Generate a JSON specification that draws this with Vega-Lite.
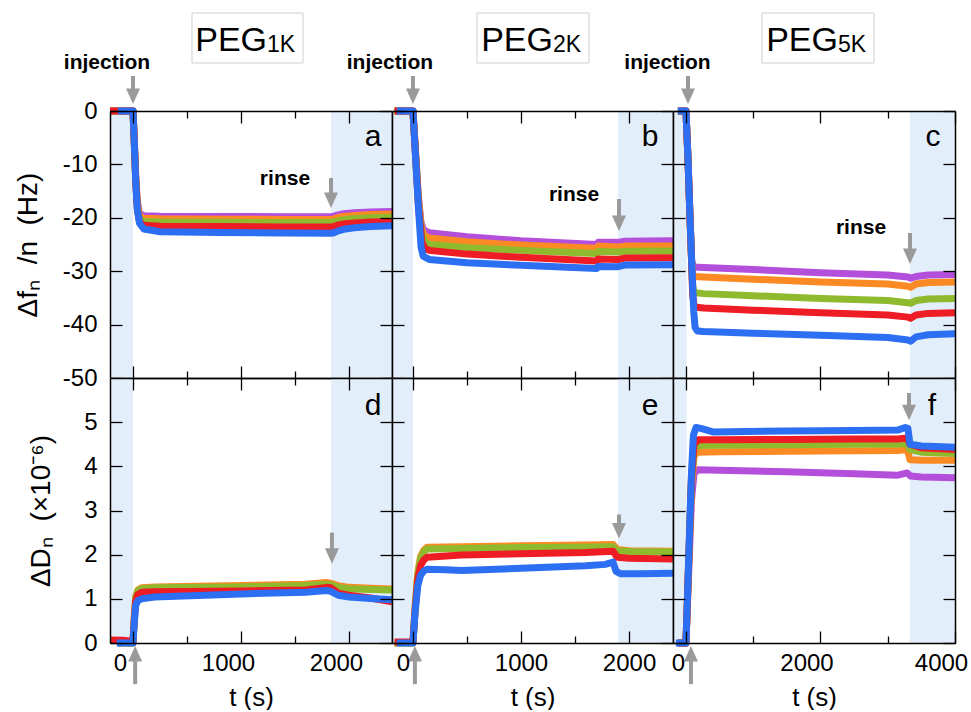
{
  "$schema": "https://vega.github.io/schema/vega-lite/v6.json",
  "background": "white",
  "padding": {"left": 14, "top": 12, "right": 0, "bottom": 0},
  "spacing": 0,
  "bounds": "flush",
  "columns": 3,
  "datasets": {
    "fa": [
      {"s":"n11","t":-213,"v":0},{"s":"n11","t":0,"v":0},{"s":"n11","t":10,"v":-4.5},{"s":"n11","t":25,"v":-12},{"s":"n11","t":40,"v":-17},{"s":"n11","t":60,"v":-19.2},{"s":"n11","t":100,"v":-19.6},{"s":"n11","t":250,"v":-19.7},{"s":"n11","t":800,"v":-19.75},{"s":"n11","t":1400,"v":-19.8},{"s":"n11","t":1833,"v":-19.8},{"s":"n11","t":1860,"v":-19.7},{"s":"n11","t":1900,"v":-19.45},{"s":"n11","t":1950,"v":-19.25},{"s":"n11","t":2050,"v":-19.05},{"s":"n11","t":2200,"v":-18.9},{"s":"n11","t":2398,"v":-18.8},
      {"s":"n9","t":-213,"v":0},{"s":"n9","t":0,"v":0},{"s":"n9","t":10,"v":-4.6},{"s":"n9","t":25,"v":-12.3},{"s":"n9","t":40,"v":-17.4},{"s":"n9","t":60,"v":-19.7},{"s":"n9","t":100,"v":-20.1},{"s":"n9","t":250,"v":-20.2},{"s":"n9","t":800,"v":-20.25},{"s":"n9","t":1400,"v":-20.3},{"s":"n9","t":1833,"v":-20.3},{"s":"n9","t":1860,"v":-20.2},{"s":"n9","t":1900,"v":-19.95},{"s":"n9","t":1950,"v":-19.75},{"s":"n9","t":2050,"v":-19.55},{"s":"n9","t":2200,"v":-19.4},{"s":"n9","t":2398,"v":-19.3},
      {"s":"n7","t":-213,"v":0},{"s":"n7","t":0,"v":0},{"s":"n7","t":10,"v":-4.7},{"s":"n7","t":25,"v":-12.6},{"s":"n7","t":40,"v":-17.8},{"s":"n7","t":60,"v":-20.2},{"s":"n7","t":100,"v":-20.7},{"s":"n7","t":250,"v":-20.8},{"s":"n7","t":800,"v":-20.85},{"s":"n7","t":1400,"v":-20.9},{"s":"n7","t":1833,"v":-20.9},{"s":"n7","t":1860,"v":-20.8},{"s":"n7","t":1900,"v":-20.55},{"s":"n7","t":1950,"v":-20.35},{"s":"n7","t":2050,"v":-20.15},{"s":"n7","t":2200,"v":-20.0},{"s":"n7","t":2398,"v":-19.9},
      {"s":"n5","t":-213,"v":0},{"s":"n5","t":0,"v":0},{"s":"n5","t":10,"v":-4.9},{"s":"n5","t":25,"v":-13},{"s":"n5","t":40,"v":-18.3},{"s":"n5","t":60,"v":-20.8},{"s":"n5","t":100,"v":-21.4},{"s":"n5","t":250,"v":-21.6},{"s":"n5","t":800,"v":-21.65},{"s":"n5","t":1400,"v":-21.7},{"s":"n5","t":1833,"v":-21.7},{"s":"n5","t":1860,"v":-21.6},{"s":"n5","t":1900,"v":-21.35},{"s":"n5","t":1950,"v":-21.15},{"s":"n5","t":2050,"v":-20.95},{"s":"n5","t":2200,"v":-20.8},{"s":"n5","t":2398,"v":-20.7},
      {"s":"n3","t":-140,"v":0},{"s":"n3","t":0,"v":0},{"s":"n3","t":10,"v":-5},{"s":"n3","t":25,"v":-13.2},{"s":"n3","t":40,"v":-18.5},{"s":"n3","t":60,"v":-21},{"s":"n3","t":100,"v":-22.1},{"s":"n3","t":250,"v":-22.6},{"s":"n3","t":800,"v":-22.75},{"s":"n3","t":1400,"v":-22.85},{"s":"n3","t":1833,"v":-22.9},{"s":"n3","t":1860,"v":-22.8},{"s":"n3","t":1900,"v":-22.45},{"s":"n3","t":1950,"v":-22.15},{"s":"n3","t":2050,"v":-21.85},{"s":"n3","t":2200,"v":-21.65},{"s":"n3","t":2398,"v":-21.5}
    ],
    "fb": [
      {"s":"n11","t":-170,"v":0},{"s":"n11","t":0,"v":0},{"s":"n11","t":25,"v":-8},{"s":"n11","t":50,"v":-16},{"s":"n11","t":75,"v":-21},{"s":"n11","t":100,"v":-22.3},{"s":"n11","t":150,"v":-22.8},{"s":"n11","t":500,"v":-23.55},{"s":"n11","t":1000,"v":-24.3},{"s":"n11","t":1700,"v":-25.0},{"s":"n11","t":1715,"v":-24.6},{"s":"n11","t":1898,"v":-24.6},{"s":"n11","t":1960,"v":-24.4},{"s":"n11","t":2407,"v":-24.3},
      {"s":"n9","t":-170,"v":0},{"s":"n9","t":0,"v":0},{"s":"n9","t":25,"v":-8.2},{"s":"n9","t":50,"v":-16.5},{"s":"n9","t":78,"v":-22},{"s":"n9","t":105,"v":-23.3},{"s":"n9","t":150,"v":-23.8},{"s":"n9","t":500,"v":-24.5},{"s":"n9","t":1000,"v":-25.1},{"s":"n9","t":1700,"v":-25.7},{"s":"n9","t":1715,"v":-25.3},{"s":"n9","t":1898,"v":-25.45},{"s":"n9","t":1960,"v":-25.3},{"s":"n9","t":2407,"v":-25.3},
      {"s":"n7","t":-170,"v":0},{"s":"n7","t":0,"v":0},{"s":"n7","t":25,"v":-8.4},{"s":"n7","t":50,"v":-17},{"s":"n7","t":80,"v":-23},{"s":"n7","t":110,"v":-24.5},{"s":"n7","t":150,"v":-25.0},{"s":"n7","t":500,"v":-25.6},{"s":"n7","t":1000,"v":-26.1},{"s":"n7","t":1700,"v":-26.7},{"s":"n7","t":1715,"v":-26.3},{"s":"n7","t":1898,"v":-26.4},{"s":"n7","t":1960,"v":-26.25},{"s":"n7","t":2407,"v":-26.2},
      {"s":"n5","t":-170,"v":0},{"s":"n5","t":0,"v":0},{"s":"n5","t":25,"v":-8.7},{"s":"n5","t":50,"v":-17.5},{"s":"n5","t":82,"v":-24.5},{"s":"n5","t":110,"v":-25.7},{"s":"n5","t":150,"v":-26.1},{"s":"n5","t":500,"v":-26.8},{"s":"n5","t":1000,"v":-27.4},{"s":"n5","t":1700,"v":-28.1},{"s":"n5","t":1715,"v":-27.7},{"s":"n5","t":1898,"v":-27.8},{"s":"n5","t":1960,"v":-27.55},{"s":"n5","t":2407,"v":-27.5},
      {"s":"n3","t":-150,"v":0},{"s":"n3","t":0,"v":0},{"s":"n3","t":25,"v":-9},{"s":"n3","t":50,"v":-18},{"s":"n3","t":75,"v":-25.5},{"s":"n3","t":95,"v":-27.2},{"s":"n3","t":150,"v":-27.8},{"s":"n3","t":500,"v":-28.4},{"s":"n3","t":1000,"v":-28.9},{"s":"n3","t":1700,"v":-29.5},{"s":"n3","t":1715,"v":-29.1},{"s":"n3","t":1898,"v":-29.15},{"s":"n3","t":1960,"v":-28.85},{"s":"n3","t":2407,"v":-28.8}
    ],
    "fc": [
      {"s":"n11","t":-120,"v":0},{"s":"n11","t":0,"v":0},{"s":"n11","t":30,"v":-9},{"s":"n11","t":60,"v":-20},{"s":"n11","t":85,"v":-28},{"s":"n11","t":110,"v":-29.2},{"s":"n11","t":260,"v":-29.3},{"s":"n11","t":1000,"v":-29.7},{"s":"n11","t":2000,"v":-30.3},{"s":"n11","t":3000,"v":-30.7},{"s":"n11","t":3300,"v":-31.1},{"s":"n11","t":3340,"v":-31.3},{"s":"n11","t":3420,"v":-31.0},{"s":"n11","t":3600,"v":-30.7},{"s":"n11","t":4000,"v":-30.6},
      {"s":"n9","t":-120,"v":0},{"s":"n9","t":0,"v":0},{"s":"n9","t":30,"v":-9},{"s":"n9","t":60,"v":-20},{"s":"n9","t":88,"v":-29.5},{"s":"n9","t":112,"v":-31},{"s":"n9","t":260,"v":-31.1},{"s":"n9","t":1000,"v":-31.5},{"s":"n9","t":2000,"v":-32.0},{"s":"n9","t":3000,"v":-32.4},{"s":"n9","t":3300,"v":-32.8},{"s":"n9","t":3340,"v":-33.0},{"s":"n9","t":3420,"v":-32.4},{"s":"n9","t":3600,"v":-32.1},{"s":"n9","t":4000,"v":-32.0},
      {"s":"n7","t":-120,"v":0},{"s":"n7","t":0,"v":0},{"s":"n7","t":30,"v":-9},{"s":"n7","t":60,"v":-20},{"s":"n7","t":95,"v":-32},{"s":"n7","t":118,"v":-34},{"s":"n7","t":260,"v":-34.2},{"s":"n7","t":1000,"v":-34.6},{"s":"n7","t":2000,"v":-35.1},{"s":"n7","t":3000,"v":-35.5},{"s":"n7","t":3300,"v":-35.9},{"s":"n7","t":3340,"v":-36.0},{"s":"n7","t":3420,"v":-35.5},{"s":"n7","t":3600,"v":-35.2},{"s":"n7","t":4000,"v":-35.1},
      {"s":"n5","t":-120,"v":0},{"s":"n5","t":0,"v":0},{"s":"n5","t":30,"v":-9},{"s":"n5","t":60,"v":-20},{"s":"n5","t":100,"v":-34.5},{"s":"n5","t":125,"v":-36.7},{"s":"n5","t":260,"v":-36.9},{"s":"n5","t":1000,"v":-37.3},{"s":"n5","t":2000,"v":-37.8},{"s":"n5","t":3000,"v":-38.2},{"s":"n5","t":3300,"v":-38.6},{"s":"n5","t":3340,"v":-38.8},{"s":"n5","t":3420,"v":-38.2},{"s":"n5","t":3600,"v":-37.9},{"s":"n5","t":4000,"v":-37.8},
      {"s":"n3","t":-120,"v":0},{"s":"n3","t":0,"v":0},{"s":"n3","t":30,"v":-9},{"s":"n3","t":60,"v":-20},{"s":"n3","t":90,"v":-30},{"s":"n3","t":115,"v":-37.5},{"s":"n3","t":135,"v":-40.5},{"s":"n3","t":170,"v":-41.2},{"s":"n3","t":260,"v":-41.3},{"s":"n3","t":1000,"v":-41.6},{"s":"n3","t":2000,"v":-42.0},{"s":"n3","t":3000,"v":-42.4},{"s":"n3","t":3300,"v":-42.9},{"s":"n3","t":3340,"v":-43.1},{"s":"n3","t":3420,"v":-42.3},{"s":"n3","t":3600,"v":-41.9},{"s":"n3","t":4000,"v":-41.7}
    ],
    "da": [
      {"s":"n9","t":-140,"v":0},{"s":"n9","t":0,"v":0},{"s":"n9","t":10,"v":0.5},{"s":"n9","t":25,"v":1.05},{"s":"n9","t":45,"v":1.2},{"s":"n9","t":80,"v":1.25},{"s":"n9","t":200,"v":1.27},{"s":"n9","t":1000,"v":1.3},{"s":"n9","t":1600,"v":1.33},{"s":"n9","t":1790,"v":1.37},{"s":"n9","t":1833,"v":1.35},{"s":"n9","t":1900,"v":1.3},{"s":"n9","t":2000,"v":1.26},{"s":"n9","t":2200,"v":1.24},{"s":"n9","t":2398,"v":1.22},
      {"s":"n7","t":-140,"v":0},{"s":"n7","t":0,"v":0},{"s":"n7","t":10,"v":0.5},{"s":"n7","t":25,"v":1.03},{"s":"n7","t":45,"v":1.18},{"s":"n7","t":80,"v":1.23},{"s":"n7","t":200,"v":1.25},{"s":"n7","t":1000,"v":1.27},{"s":"n7","t":1600,"v":1.3},{"s":"n7","t":1790,"v":1.33},{"s":"n7","t":1833,"v":1.32},{"s":"n7","t":1900,"v":1.26},{"s":"n7","t":2000,"v":1.23},{"s":"n7","t":2200,"v":1.21},{"s":"n7","t":2398,"v":1.2},
      {"s":"n5","t":-213,"v":0.07},{"s":"n5","t":-100,"v":0.06},{"s":"n5","t":0,"v":0.04},{"s":"n5","t":10,"v":0.45},{"s":"n5","t":25,"v":0.95},{"s":"n5","t":45,"v":1.1},{"s":"n5","t":80,"v":1.15},{"s":"n5","t":200,"v":1.16},{"s":"n5","t":1000,"v":1.18},{"s":"n5","t":1600,"v":1.2},{"s":"n5","t":1790,"v":1.26},{"s":"n5","t":1833,"v":1.25},{"s":"n5","t":1900,"v":1.13},{"s":"n5","t":2000,"v":1.08},{"s":"n5","t":2200,"v":1.02},{"s":"n5","t":2398,"v":0.93},
      {"s":"n3","t":-150,"v":0},{"s":"n3","t":0,"v":0},{"s":"n3","t":10,"v":0.4},{"s":"n3","t":25,"v":0.85},{"s":"n3","t":45,"v":0.96},{"s":"n3","t":80,"v":1.0},{"s":"n3","t":200,"v":1.04},{"s":"n3","t":1000,"v":1.11},{"s":"n3","t":1600,"v":1.15},{"s":"n3","t":1790,"v":1.19},{"s":"n3","t":1833,"v":1.17},{"s":"n3","t":1900,"v":1.08},{"s":"n3","t":2000,"v":1.04},{"s":"n3","t":2200,"v":1.01},{"s":"n3","t":2398,"v":0.98}
    ],
    "db": [
      {"s":"n9","t":-170,"v":0},{"s":"n9","t":0,"v":0},{"s":"n9","t":20,"v":0.8},{"s":"n9","t":45,"v":1.6},{"s":"n9","t":70,"v":1.95},{"s":"n9","t":100,"v":2.1},{"s":"n9","t":130,"v":2.17},{"s":"n9","t":450,"v":2.18},{"s":"n9","t":1000,"v":2.2},{"s":"n9","t":1600,"v":2.22},{"s":"n9","t":1852,"v":2.23},{"s":"n9","t":1890,"v":2.12},{"s":"n9","t":2000,"v":2.09},{"s":"n9","t":2407,"v":2.08},
      {"s":"n7","t":-170,"v":0},{"s":"n7","t":0,"v":0},{"s":"n7","t":20,"v":0.78},{"s":"n7","t":45,"v":1.56},{"s":"n7","t":70,"v":1.9},{"s":"n7","t":100,"v":2.06},{"s":"n7","t":130,"v":2.13},{"s":"n7","t":450,"v":2.14},{"s":"n7","t":1000,"v":2.16},{"s":"n7","t":1600,"v":2.17},{"s":"n7","t":1852,"v":2.18},{"s":"n7","t":1890,"v":2.09},{"s":"n7","t":2000,"v":2.07},{"s":"n7","t":2407,"v":2.06},
      {"s":"n5","t":-170,"v":0.02},{"s":"n5","t":0,"v":0.02},{"s":"n5","t":20,"v":0.75},{"s":"n5","t":45,"v":1.45},{"s":"n5","t":70,"v":1.75},{"s":"n5","t":100,"v":1.88},{"s":"n5","t":130,"v":1.94},{"s":"n5","t":450,"v":1.99},{"s":"n5","t":1000,"v":2.02},{"s":"n5","t":1600,"v":2.05},{"s":"n5","t":1852,"v":2.08},{"s":"n5","t":1890,"v":1.94},{"s":"n5","t":2000,"v":1.92},{"s":"n5","t":2407,"v":1.9},
      {"s":"n3","t":-150,"v":0},{"s":"n3","t":0,"v":0},{"s":"n3","t":20,"v":0.7},{"s":"n3","t":45,"v":1.3},{"s":"n3","t":70,"v":1.53},{"s":"n3","t":100,"v":1.63},{"s":"n3","t":130,"v":1.67},{"s":"n3","t":300,"v":1.66},{"s":"n3","t":450,"v":1.64},{"s":"n3","t":1000,"v":1.69},{"s":"n3","t":1600,"v":1.75},{"s":"n3","t":1780,"v":1.78},{"s":"n3","t":1852,"v":1.83},{"s":"n3","t":1880,"v":1.62},{"s":"n3","t":1920,"v":1.57},{"s":"n3","t":2100,"v":1.57},{"s":"n3","t":2407,"v":1.58}
    ],
    "dc": [
      {"s":"n11","t":-120,"v":0},{"s":"n11","t":0,"v":0},{"s":"n11","t":40,"v":1.6},{"s":"n11","t":80,"v":3.2},{"s":"n11","t":120,"v":3.85},{"s":"n11","t":180,"v":3.92},{"s":"n11","t":500,"v":3.91},{"s":"n11","t":1500,"v":3.88},{"s":"n11","t":2500,"v":3.83},{"s":"n11","t":3150,"v":3.8},{"s":"n11","t":3290,"v":3.85},{"s":"n11","t":3340,"v":3.78},{"s":"n11","t":3500,"v":3.76},{"s":"n11","t":4000,"v":3.74},
      {"s":"n9","t":-120,"v":0},{"s":"n9","t":0,"v":0},{"s":"n9","t":40,"v":1.75},{"s":"n9","t":80,"v":3.5},{"s":"n9","t":120,"v":4.25},{"s":"n9","t":180,"v":4.32},{"s":"n9","t":500,"v":4.33},{"s":"n9","t":1500,"v":4.34},{"s":"n9","t":2500,"v":4.35},{"s":"n9","t":3150,"v":4.36},{"s":"n9","t":3290,"v":4.38},{"s":"n9","t":3330,"v":4.15},{"s":"n9","t":3500,"v":4.14},{"s":"n9","t":4000,"v":4.14},
      {"s":"n7","t":-120,"v":0},{"s":"n7","t":0,"v":0},{"s":"n7","t":40,"v":1.8},{"s":"n7","t":80,"v":3.6},{"s":"n7","t":120,"v":4.4},{"s":"n7","t":180,"v":4.47},{"s":"n7","t":500,"v":4.48},{"s":"n7","t":1500,"v":4.49},{"s":"n7","t":2500,"v":4.5},{"s":"n7","t":3150,"v":4.5},{"s":"n7","t":3290,"v":4.52},{"s":"n7","t":3330,"v":4.38},{"s":"n7","t":3500,"v":4.32},{"s":"n7","t":4000,"v":4.29},
      {"s":"n5","t":-120,"v":0},{"s":"n5","t":0,"v":0},{"s":"n5","t":40,"v":1.85},{"s":"n5","t":80,"v":3.7},{"s":"n5","t":120,"v":4.5},{"s":"n5","t":180,"v":4.6},{"s":"n5","t":500,"v":4.6},{"s":"n5","t":1500,"v":4.61},{"s":"n5","t":2500,"v":4.62},{"s":"n5","t":3150,"v":4.62},{"s":"n5","t":3290,"v":4.64},{"s":"n5","t":3330,"v":4.5},{"s":"n5","t":3500,"v":4.42},{"s":"n5","t":4000,"v":4.38},
      {"s":"n3","t":-150,"v":0},{"s":"n3","t":0,"v":0},{"s":"n3","t":40,"v":1.9},{"s":"n3","t":80,"v":3.8},{"s":"n3","t":110,"v":4.7},{"s":"n3","t":150,"v":4.88},{"s":"n3","t":220,"v":4.86},{"s":"n3","t":400,"v":4.78},{"s":"n3","t":1500,"v":4.8},{"s":"n3","t":2500,"v":4.81},{"s":"n3","t":3150,"v":4.82},{"s":"n3","t":3260,"v":4.88},{"s":"n3","t":3300,"v":4.86},{"s":"n3","t":3330,"v":4.5},{"s":"n3","t":3500,"v":4.46},{"s":"n3","t":4000,"v":4.43}
    ],
    "ann_a": [
      {"kind":"shade","t":-213,"t2":0},{"kind":"shade","t":1833,"t2":2398},
      {"kind":"arrow","t":0,"v":6.55,"v2":2.75,"dir":"down"},{"kind":"arrow","t":1833,"v":-12.55,"v2":-16.72,"dir":"down"},
      {"kind":"box","t":546,"t2":1574,"v":18.35,"v2":8.99},
      {"kind":"peg","t":1241,"v":11.24,"label":"PEG"},{"kind":"sub","t":1241,"v":11.05,"label":"1K"},
      {"kind":"inj","t":-241,"v":7.87,"label":"injection"},
      {"kind":"rinse","t":1407,"v":-13.86,"label":"rinse"},
      {"kind":"letter","t":2222,"v":-6.55,"label":"a"}
    ],
    "ann_b": [
      {"kind":"shade","t":-194,"t2":0},{"kind":"shade","t":1898,"t2":2407},
      {"kind":"arrow","t":0,"v":6.55,"v2":2.75,"dir":"down"},{"kind":"arrow","t":1907,"v":-16.48,"v2":-21.03,"dir":"down"},
      {"kind":"box","t":593,"t2":1630,"v":18.35,"v2":8.99},
      {"kind":"peg","t":1296,"v":11.24,"label":"PEG"},{"kind":"sub","t":1296,"v":11.05,"label":"2K"},
      {"kind":"inj","t":-213,"v":7.87,"label":"injection"},
      {"kind":"rinse","t":1491,"v":-16.85,"label":"rinse"},
      {"kind":"letter","t":2194,"v":-6.55,"label":"b"}
    ],
    "ann_c": [
      {"kind":"shade","t":-193,"t2":10},{"kind":"shade","t":3331,"t2":4000},
      {"kind":"arrow","t":30,"v":6.55,"v2":2.75,"dir":"down"},{"kind":"arrow","t":3331,"v":-22.85,"v2":-27.21,"dir":"down"},
      {"kind":"box","t":1130,"t2":2796,"v":18.35,"v2":8.99},
      {"kind":"peg","t":2260,"v":11.24,"label":"PEG"},{"kind":"sub","t":2260,"v":11.05,"label":"5K"},
      {"kind":"inj","t":-275,"v":7.87,"label":"injection"},
      {"kind":"rinse","t":2602,"v":-23.03,"label":"rinse"},
      {"kind":"letter","t":3673,"v":-6.55,"label":"c"}
    ],
    "ann_d": [
      {"kind":"shade","t":-213,"t2":0},{"kind":"shade","t":1833,"t2":2398},
      {"kind":"arrow","t":20,"v":-0.932,"v2":-0.243,"dir":"up"},{"kind":"arrow","t":1842,"v":2.5,"v2":1.97,"dir":"down"},
      {"kind":"letter","t":2222,"v":5.16,"label":"d"}
    ],
    "ann_e": [
      {"kind":"shade","t":-194,"t2":0},{"kind":"shade","t":1898,"t2":2407},
      {"kind":"arrow","t":18,"v":-0.932,"v2":-0.243,"dir":"up"},{"kind":"arrow","t":1907,"v":2.91,"v2":2.54,"dir":"down"},
      {"kind":"letter","t":2194,"v":5.16,"label":"e"}
    ],
    "ann_f": [
      {"kind":"shade","t":-193,"t2":10},{"kind":"shade","t":3331,"t2":4000},
      {"kind":"arrow","t":74,"v":-0.932,"v2":-0.243,"dir":"up"},{"kind":"arrow","t":3316,"v":5.66,"v2":5.22,"dir":"down"},
      {"kind":"letter","t":3658,"v":5.16,"label":"f"}
    ]
  },
  "concat": [
    {
      "width": 282, "height": 267,
      "resolve": {"axis": {"x": "independent", "y": "independent"}},
      "layer": [
        {"data": {"name": "ann_a"}, "transform": [{"filter": "datum.kind === 'shade'"}],
         "mark": {"type": "rect", "color": "#e3eefb"},
         "encoding": {"x": {"field": "t", "type": "quantitative", "scale": {"domain": [-213, 2398], "nice": false, "zero": false}, "axis": null}, "x2": {"field": "t2"}}},
        {"data": {"name": "fa"},
         "mark": {"type": "line", "strokeWidth": 7, "strokeJoin": "round"},
         "encoding": {
           "x": {"field": "t", "type": "quantitative", "scale": {"domain": [-213, 2398], "nice": false, "zero": false},
                 "axis": {"zindex": 1, "orient": "bottom", "values": [0, 500, 1000, 1500, 2000], "labels": false, "title": null, "tickSize": {"condition": {"test": "datum.value % 1000 !== 0", "value": -7}, "value": -12}}},
           "y": {"field": "v", "type": "quantitative", "scale": {"domain": [-50, 0], "nice": false, "zero": false},
                 "axis": {"zindex": 1, "orient": "left", "values": [-50, -40, -30, -20, -10, 0], "labelExpr": "'' + datum.value", "labelPadding": 25, "tickSize": -12, "title": "Δfₙ\u00a0 /n\u00a0 (Hz)", "titleFontSize": 28, "titlePadding": 20}},
           "color": {"field": "s", "type": "nominal", "scale": {"domain": ["n11", "n9", "n7", "n5", "n3"], "range": ["#b44fdc", "#fb8a24", "#8fba2e", "#ee1c24", "#2d6ff2"]}, "legend": null}}},
        {"data": {"name": "ann_a"}, "transform": [{"filter": "datum.kind === 'arrow'"}],
         "mark": {"type": "rule", "color": "#9a9a9a", "strokeWidth": 4},
         "encoding": {"x": {"field": "t", "type": "quantitative", "scale": {"domain": [-213, 2398], "nice": false, "zero": false}, "axis": null},
                      "y": {"field": "v", "type": "quantitative", "scale": {"domain": [-50, 0], "nice": false, "zero": false}, "axis": null}, "y2": {"field": "v2"}}},
        {"data": {"name": "ann_a"}, "transform": [{"filter": "datum.kind === 'arrow'"}],
         "mark": {"type": "point", "filled": true, "color": "#9a9a9a", "size": 196, "opacity": 1},
         "encoding": {"x": {"field": "t", "type": "quantitative", "scale": {"domain": [-213, 2398], "nice": false, "zero": false}, "axis": null},
                      "y": {"field": "v2", "type": "quantitative", "scale": {"domain": [-50, 0], "nice": false, "zero": false}, "axis": null},
                      "shape": {"field": "dir", "type": "nominal", "scale": {"domain": ["down", "up"], "range": ["M-1,-1.1L1,-1.1L0,1.1Z", "M-1,1.1L1,1.1L0,-1.1Z"]}, "legend": null}}},
        {"data": {"name": "ann_a"}, "transform": [{"filter": "datum.kind === 'box'"}],
         "mark": {"type": "rect", "fill": "white", "stroke": "#cfcfcf", "strokeWidth": 1},
         "encoding": {"x": {"field": "t", "type": "quantitative", "scale": {"domain": [-213, 2398], "nice": false, "zero": false}, "axis": null}, "x2": {"field": "t2"},
                      "y": {"field": "v", "type": "quantitative", "scale": {"domain": [-50, 0], "nice": false, "zero": false}, "axis": null}, "y2": {"field": "v2"}}},
        {"data": {"name": "ann_a"}, "transform": [{"filter": "datum.kind === 'peg'"}],
         "mark": {"type": "text", "align": "right", "baseline": "alphabetic", "fontSize": 34},
         "encoding": {"x": {"field": "t", "type": "quantitative", "scale": {"domain": [-213, 2398], "nice": false, "zero": false}, "axis": null},
                      "y": {"field": "v", "type": "quantitative", "scale": {"domain": [-50, 0], "nice": false, "zero": false}, "axis": null}, "text": {"field": "label"}}},
        {"data": {"name": "ann_a"}, "transform": [{"filter": "datum.kind === 'sub'"}],
         "mark": {"type": "text", "align": "left", "baseline": "alphabetic", "fontSize": 23},
         "encoding": {"x": {"field": "t", "type": "quantitative", "scale": {"domain": [-213, 2398], "nice": false, "zero": false}, "axis": null},
                      "y": {"field": "v", "type": "quantitative", "scale": {"domain": [-50, 0], "nice": false, "zero": false}, "axis": null}, "text": {"field": "label"}}},
        {"data": {"name": "ann_a"}, "transform": [{"filter": "datum.kind === 'inj' || datum.kind === 'rinse'"}],
         "mark": {"type": "text", "align": "center", "baseline": "alphabetic", "fontSize": 21, "fontWeight": "bold"},
         "encoding": {"x": {"field": "t", "type": "quantitative", "scale": {"domain": [-213, 2398], "nice": false, "zero": false}, "axis": null},
                      "y": {"field": "v", "type": "quantitative", "scale": {"domain": [-50, 0], "nice": false, "zero": false}, "axis": null}, "text": {"field": "label"}}},
        {"data": {"name": "ann_a"}, "transform": [{"filter": "datum.kind === 'letter'"}],
         "mark": {"type": "text", "align": "center", "baseline": "alphabetic", "fontSize": 30},
         "encoding": {"x": {"field": "t", "type": "quantitative", "scale": {"domain": [-213, 2398], "nice": false, "zero": false},
                            "axis": {"zindex": 1, "orient": "top", "values": [0, 500, 1000, 1500, 2000], "labels": false, "title": null, "tickSize": {"condition": {"test": "datum.value % 1000 !== 0", "value": -7}, "value": -12}}},
                      "y": {"field": "v", "type": "quantitative", "scale": {"domain": [-50, 0], "nice": false, "zero": false},
                            "axis": {"zindex": 1, "orient": "right", "values": [-50, -40, -30, -20, -10, 0], "labels": false, "title": null, "tickSize": -12}},
                      "text": {"field": "label"}}}
      ]
    },
    {
      "width": 281, "height": 267,
      "resolve": {"axis": {"x": "independent", "y": "independent"}},
      "layer": [
        {"data": {"name": "ann_b"}, "transform": [{"filter": "datum.kind === 'shade'"}],
         "mark": {"type": "rect", "color": "#e3eefb"},
         "encoding": {"x": {"field": "t", "type": "quantitative", "scale": {"domain": [-194, 2407], "nice": false, "zero": false}, "axis": null}, "x2": {"field": "t2"}}},
        {"data": {"name": "fb"},
         "mark": {"type": "line", "strokeWidth": 7, "strokeJoin": "round"},
         "encoding": {
           "x": {"field": "t", "type": "quantitative", "scale": {"domain": [-194, 2407], "nice": false, "zero": false},
                 "axis": {"zindex": 1, "orient": "bottom", "values": [0, 500, 1000, 1500, 2000], "labels": false, "title": null, "tickSize": {"condition": {"test": "datum.value % 1000 !== 0", "value": -7}, "value": -12}}},
           "y": {"field": "v", "type": "quantitative", "scale": {"domain": [-50, 0], "nice": false, "zero": false},
                 "axis": {"zindex": 1, "orient": "left", "values": [-50, -40, -30, -20, -10, 0], "labels": false, "title": null, "tickSize": -12}},
           "color": {"field": "s", "type": "nominal", "scale": {"domain": ["n11", "n9", "n7", "n5", "n3"], "range": ["#b44fdc", "#fb8a24", "#8fba2e", "#ee1c24", "#2d6ff2"]}, "legend": null}}},
        {"data": {"name": "ann_b"}, "transform": [{"filter": "datum.kind === 'arrow'"}],
         "mark": {"type": "rule", "color": "#9a9a9a", "strokeWidth": 4},
         "encoding": {"x": {"field": "t", "type": "quantitative", "scale": {"domain": [-194, 2407], "nice": false, "zero": false}, "axis": null},
                      "y": {"field": "v", "type": "quantitative", "scale": {"domain": [-50, 0], "nice": false, "zero": false}, "axis": null}, "y2": {"field": "v2"}}},
        {"data": {"name": "ann_b"}, "transform": [{"filter": "datum.kind === 'arrow'"}],
         "mark": {"type": "point", "filled": true, "color": "#9a9a9a", "size": 196, "opacity": 1},
         "encoding": {"x": {"field": "t", "type": "quantitative", "scale": {"domain": [-194, 2407], "nice": false, "zero": false}, "axis": null},
                      "y": {"field": "v2", "type": "quantitative", "scale": {"domain": [-50, 0], "nice": false, "zero": false}, "axis": null},
                      "shape": {"field": "dir", "type": "nominal", "scale": {"domain": ["down", "up"], "range": ["M-1,-1.1L1,-1.1L0,1.1Z", "M-1,1.1L1,1.1L0,-1.1Z"]}, "legend": null}}},
        {"data": {"name": "ann_b"}, "transform": [{"filter": "datum.kind === 'box'"}],
         "mark": {"type": "rect", "fill": "white", "stroke": "#cfcfcf", "strokeWidth": 1},
         "encoding": {"x": {"field": "t", "type": "quantitative", "scale": {"domain": [-194, 2407], "nice": false, "zero": false}, "axis": null}, "x2": {"field": "t2"},
                      "y": {"field": "v", "type": "quantitative", "scale": {"domain": [-50, 0], "nice": false, "zero": false}, "axis": null}, "y2": {"field": "v2"}}},
        {"data": {"name": "ann_b"}, "transform": [{"filter": "datum.kind === 'peg'"}],
         "mark": {"type": "text", "align": "right", "baseline": "alphabetic", "fontSize": 34},
         "encoding": {"x": {"field": "t", "type": "quantitative", "scale": {"domain": [-194, 2407], "nice": false, "zero": false}, "axis": null},
                      "y": {"field": "v", "type": "quantitative", "scale": {"domain": [-50, 0], "nice": false, "zero": false}, "axis": null}, "text": {"field": "label"}}},
        {"data": {"name": "ann_b"}, "transform": [{"filter": "datum.kind === 'sub'"}],
         "mark": {"type": "text", "align": "left", "baseline": "alphabetic", "fontSize": 23},
         "encoding": {"x": {"field": "t", "type": "quantitative", "scale": {"domain": [-194, 2407], "nice": false, "zero": false}, "axis": null},
                      "y": {"field": "v", "type": "quantitative", "scale": {"domain": [-50, 0], "nice": false, "zero": false}, "axis": null}, "text": {"field": "label"}}},
        {"data": {"name": "ann_b"}, "transform": [{"filter": "datum.kind === 'inj' || datum.kind === 'rinse'"}],
         "mark": {"type": "text", "align": "center", "baseline": "alphabetic", "fontSize": 21, "fontWeight": "bold"},
         "encoding": {"x": {"field": "t", "type": "quantitative", "scale": {"domain": [-194, 2407], "nice": false, "zero": false}, "axis": null},
                      "y": {"field": "v", "type": "quantitative", "scale": {"domain": [-50, 0], "nice": false, "zero": false}, "axis": null}, "text": {"field": "label"}}},
        {"data": {"name": "ann_b"}, "transform": [{"filter": "datum.kind === 'letter'"}],
         "mark": {"type": "text", "align": "center", "baseline": "alphabetic", "fontSize": 30},
         "encoding": {"x": {"field": "t", "type": "quantitative", "scale": {"domain": [-194, 2407], "nice": false, "zero": false},
                            "axis": {"zindex": 1, "orient": "top", "values": [0, 500, 1000, 1500, 2000], "labels": false, "title": null, "tickSize": {"condition": {"test": "datum.value % 1000 !== 0", "value": -7}, "value": -12}}},
                      "y": {"field": "v", "type": "quantitative", "scale": {"domain": [-50, 0], "nice": false, "zero": false},
                            "axis": {"zindex": 1, "orient": "right", "values": [-50, -40, -30, -20, -10, 0], "labels": false, "title": null, "tickSize": -12}},
                      "text": {"field": "label"}}}
      ]
    },
    {
      "width": 282, "height": 267,
      "resolve": {"axis": {"x": "independent", "y": "independent"}},
      "layer": [
        {"data": {"name": "ann_c"}, "transform": [{"filter": "datum.kind === 'shade'"}],
         "mark": {"type": "rect", "color": "#e3eefb"},
         "encoding": {"x": {"field": "t", "type": "quantitative", "scale": {"domain": [-193, 4000], "nice": false, "zero": false}, "axis": null}, "x2": {"field": "t2"}}},
        {"data": {"name": "fc"},
         "mark": {"type": "line", "strokeWidth": 7, "strokeJoin": "round"},
         "encoding": {
           "x": {"field": "t", "type": "quantitative", "scale": {"domain": [-193, 4000], "nice": false, "zero": false},
                 "axis": {"zindex": 1, "orient": "bottom", "values": [0, 1000, 2000, 3000, 4000], "labels": false, "title": null, "tickSize": {"condition": {"test": "datum.value % 2000 !== 0", "value": -7}, "value": -12}}},
           "y": {"field": "v", "type": "quantitative", "scale": {"domain": [-50, 0], "nice": false, "zero": false},
                 "axis": {"zindex": 1, "orient": "left", "values": [-50, -40, -30, -20, -10, 0], "labels": false, "title": null, "tickSize": -12}},
           "color": {"field": "s", "type": "nominal", "scale": {"domain": ["n11", "n9", "n7", "n5", "n3"], "range": ["#b44fdc", "#fb8a24", "#8fba2e", "#ee1c24", "#2d6ff2"]}, "legend": null}}},
        {"data": {"name": "ann_c"}, "transform": [{"filter": "datum.kind === 'arrow'"}],
         "mark": {"type": "rule", "color": "#9a9a9a", "strokeWidth": 4},
         "encoding": {"x": {"field": "t", "type": "quantitative", "scale": {"domain": [-193, 4000], "nice": false, "zero": false}, "axis": null},
                      "y": {"field": "v", "type": "quantitative", "scale": {"domain": [-50, 0], "nice": false, "zero": false}, "axis": null}, "y2": {"field": "v2"}}},
        {"data": {"name": "ann_c"}, "transform": [{"filter": "datum.kind === 'arrow'"}],
         "mark": {"type": "point", "filled": true, "color": "#9a9a9a", "size": 196, "opacity": 1},
         "encoding": {"x": {"field": "t", "type": "quantitative", "scale": {"domain": [-193, 4000], "nice": false, "zero": false}, "axis": null},
                      "y": {"field": "v2", "type": "quantitative", "scale": {"domain": [-50, 0], "nice": false, "zero": false}, "axis": null},
                      "shape": {"field": "dir", "type": "nominal", "scale": {"domain": ["down", "up"], "range": ["M-1,-1.1L1,-1.1L0,1.1Z", "M-1,1.1L1,1.1L0,-1.1Z"]}, "legend": null}}},
        {"data": {"name": "ann_c"}, "transform": [{"filter": "datum.kind === 'box'"}],
         "mark": {"type": "rect", "fill": "white", "stroke": "#cfcfcf", "strokeWidth": 1},
         "encoding": {"x": {"field": "t", "type": "quantitative", "scale": {"domain": [-193, 4000], "nice": false, "zero": false}, "axis": null}, "x2": {"field": "t2"},
                      "y": {"field": "v", "type": "quantitative", "scale": {"domain": [-50, 0], "nice": false, "zero": false}, "axis": null}, "y2": {"field": "v2"}}},
        {"data": {"name": "ann_c"}, "transform": [{"filter": "datum.kind === 'peg'"}],
         "mark": {"type": "text", "align": "right", "baseline": "alphabetic", "fontSize": 34},
         "encoding": {"x": {"field": "t", "type": "quantitative", "scale": {"domain": [-193, 4000], "nice": false, "zero": false}, "axis": null},
                      "y": {"field": "v", "type": "quantitative", "scale": {"domain": [-50, 0], "nice": false, "zero": false}, "axis": null}, "text": {"field": "label"}}},
        {"data": {"name": "ann_c"}, "transform": [{"filter": "datum.kind === 'sub'"}],
         "mark": {"type": "text", "align": "left", "baseline": "alphabetic", "fontSize": 23},
         "encoding": {"x": {"field": "t", "type": "quantitative", "scale": {"domain": [-193, 4000], "nice": false, "zero": false}, "axis": null},
                      "y": {"field": "v", "type": "quantitative", "scale": {"domain": [-50, 0], "nice": false, "zero": false}, "axis": null}, "text": {"field": "label"}}},
        {"data": {"name": "ann_c"}, "transform": [{"filter": "datum.kind === 'inj' || datum.kind === 'rinse'"}],
         "mark": {"type": "text", "align": "center", "baseline": "alphabetic", "fontSize": 21, "fontWeight": "bold"},
         "encoding": {"x": {"field": "t", "type": "quantitative", "scale": {"domain": [-193, 4000], "nice": false, "zero": false}, "axis": null},
                      "y": {"field": "v", "type": "quantitative", "scale": {"domain": [-50, 0], "nice": false, "zero": false}, "axis": null}, "text": {"field": "label"}}},
        {"data": {"name": "ann_c"}, "transform": [{"filter": "datum.kind === 'letter'"}],
         "mark": {"type": "text", "align": "center", "baseline": "alphabetic", "fontSize": 30},
         "encoding": {"x": {"field": "t", "type": "quantitative", "scale": {"domain": [-193, 4000], "nice": false, "zero": false},
                            "axis": {"zindex": 1, "orient": "top", "values": [0, 1000, 2000, 3000, 4000], "labels": false, "title": null, "tickSize": {"condition": {"test": "datum.value % 2000 !== 0", "value": -7}, "value": -12}}},
                      "y": {"field": "v", "type": "quantitative", "scale": {"domain": [-50, 0], "nice": false, "zero": false},
                            "axis": {"zindex": 1, "orient": "right", "values": [-50, -40, -30, -20, -10, 0], "labels": false, "title": null, "tickSize": -12}},
                      "text": {"field": "label"}}}
      ]
    },
    {
      "width": 282, "height": 265,
      "resolve": {"axis": {"x": "independent", "y": "independent"}},
      "layer": [
        {"data": {"name": "ann_d"}, "transform": [{"filter": "datum.kind === 'shade'"}],
         "mark": {"type": "rect", "color": "#e3eefb"},
         "encoding": {"x": {"field": "t", "type": "quantitative", "scale": {"domain": [-213, 2398], "nice": false, "zero": false}, "axis": null}, "x2": {"field": "t2"}}},
        {"data": {"name": "da"},
         "mark": {"type": "line", "strokeWidth": 7, "strokeJoin": "round"},
         "encoding": {
           "x": {"field": "t", "type": "quantitative", "scale": {"domain": [-213, 2398], "nice": false, "zero": false},
                 "axis": {"zindex": 1, "orient": "bottom", "values": [0, 500, 1000, 1500, 2000], "labelExpr": "datum.value % 1000 === 0 ? '' + datum.value : ''", "labelPadding": 20, "labelOffset": -13, "title": "t (s)", "titlePadding": 4, "tickSize": {"condition": {"test": "datum.value % 1000 !== 0", "value": -7}, "value": -12}}},
           "y": {"field": "v", "type": "quantitative", "scale": {"domain": [0, 6], "nice": false, "zero": false},
                 "axis": {"zindex": 1, "orient": "left", "values": [0, 1, 2, 3, 4, 5], "labelExpr": "'' + datum.value", "labelPadding": 25, "tickSize": -12, "title": "ΔDₙ\u00a0 (×10⁻⁶)", "titleFontSize": 28, "titlePadding": 28}},
           "color": {"field": "s", "type": "nominal", "scale": {"domain": ["n11", "n9", "n7", "n5", "n3"], "range": ["#b44fdc", "#fb8a24", "#8fba2e", "#ee1c24", "#2d6ff2"]}, "legend": null}}},
        {"data": {"name": "ann_d"}, "transform": [{"filter": "datum.kind === 'arrow'"}],
         "mark": {"type": "rule", "color": "#9a9a9a", "strokeWidth": 4},
         "encoding": {"x": {"field": "t", "type": "quantitative", "scale": {"domain": [-213, 2398], "nice": false, "zero": false}, "axis": null},
                      "y": {"field": "v", "type": "quantitative", "scale": {"domain": [0, 6], "nice": false, "zero": false}, "axis": null}, "y2": {"field": "v2"}}},
        {"data": {"name": "ann_d"}, "transform": [{"filter": "datum.kind === 'arrow'"}],
         "mark": {"type": "point", "filled": true, "color": "#9a9a9a", "size": 196, "opacity": 1},
         "encoding": {"x": {"field": "t", "type": "quantitative", "scale": {"domain": [-213, 2398], "nice": false, "zero": false}, "axis": null},
                      "y": {"field": "v2", "type": "quantitative", "scale": {"domain": [0, 6], "nice": false, "zero": false}, "axis": null},
                      "shape": {"field": "dir", "type": "nominal", "scale": {"domain": ["down", "up"], "range": ["M-1,-1.1L1,-1.1L0,1.1Z", "M-1,1.1L1,1.1L0,-1.1Z"]}, "legend": null}}},
        {"data": {"name": "ann_d"}, "transform": [{"filter": "datum.kind === 'letter'"}],
         "mark": {"type": "text", "align": "center", "baseline": "alphabetic", "fontSize": 30},
         "encoding": {"x": {"field": "t", "type": "quantitative", "scale": {"domain": [-213, 2398], "nice": false, "zero": false},
                            "axis": {"zindex": 1, "orient": "top", "values": [0, 500, 1000, 1500, 2000], "labels": false, "title": null, "tickSize": {"condition": {"test": "datum.value % 1000 !== 0", "value": -7}, "value": -12}}},
                      "y": {"field": "v", "type": "quantitative", "scale": {"domain": [0, 6], "nice": false, "zero": false},
                            "axis": {"zindex": 1, "orient": "right", "values": [0, 1, 2, 3, 4, 5], "labels": false, "title": null, "tickSize": -12}},
                      "text": {"field": "label"}}}
      ]
    },
    {
      "width": 281, "height": 265,
      "resolve": {"axis": {"x": "independent", "y": "independent"}},
      "layer": [
        {"data": {"name": "ann_e"}, "transform": [{"filter": "datum.kind === 'shade'"}],
         "mark": {"type": "rect", "color": "#e3eefb"},
         "encoding": {"x": {"field": "t", "type": "quantitative", "scale": {"domain": [-194, 2407], "nice": false, "zero": false}, "axis": null}, "x2": {"field": "t2"}}},
        {"data": {"name": "db"},
         "mark": {"type": "line", "strokeWidth": 7, "strokeJoin": "round"},
         "encoding": {
           "x": {"field": "t", "type": "quantitative", "scale": {"domain": [-194, 2407], "nice": false, "zero": false},
                 "axis": {"zindex": 1, "orient": "bottom", "values": [0, 500, 1000, 1500, 2000], "labelExpr": "datum.value % 1000 === 0 ? '' + datum.value : ''", "labelPadding": 20, "labelOffset": {"condition": {"test": "datum.value === 0", "value": -10}, "value": 0}, "title": "t (s)", "titlePadding": 4, "tickSize": {"condition": {"test": "datum.value % 1000 !== 0", "value": -7}, "value": -12}}},
           "y": {"field": "v", "type": "quantitative", "scale": {"domain": [0, 6], "nice": false, "zero": false},
                 "axis": {"zindex": 1, "orient": "left", "values": [0, 1, 2, 3, 4, 5], "labels": false, "title": null, "tickSize": -12}},
           "color": {"field": "s", "type": "nominal", "scale": {"domain": ["n11", "n9", "n7", "n5", "n3"], "range": ["#b44fdc", "#fb8a24", "#8fba2e", "#ee1c24", "#2d6ff2"]}, "legend": null}}},
        {"data": {"name": "ann_e"}, "transform": [{"filter": "datum.kind === 'arrow'"}],
         "mark": {"type": "rule", "color": "#9a9a9a", "strokeWidth": 4},
         "encoding": {"x": {"field": "t", "type": "quantitative", "scale": {"domain": [-194, 2407], "nice": false, "zero": false}, "axis": null},
                      "y": {"field": "v", "type": "quantitative", "scale": {"domain": [0, 6], "nice": false, "zero": false}, "axis": null}, "y2": {"field": "v2"}}},
        {"data": {"name": "ann_e"}, "transform": [{"filter": "datum.kind === 'arrow'"}],
         "mark": {"type": "point", "filled": true, "color": "#9a9a9a", "size": 196, "opacity": 1},
         "encoding": {"x": {"field": "t", "type": "quantitative", "scale": {"domain": [-194, 2407], "nice": false, "zero": false}, "axis": null},
                      "y": {"field": "v2", "type": "quantitative", "scale": {"domain": [0, 6], "nice": false, "zero": false}, "axis": null},
                      "shape": {"field": "dir", "type": "nominal", "scale": {"domain": ["down", "up"], "range": ["M-1,-1.1L1,-1.1L0,1.1Z", "M-1,1.1L1,1.1L0,-1.1Z"]}, "legend": null}}},
        {"data": {"name": "ann_e"}, "transform": [{"filter": "datum.kind === 'letter'"}],
         "mark": {"type": "text", "align": "center", "baseline": "alphabetic", "fontSize": 30},
         "encoding": {"x": {"field": "t", "type": "quantitative", "scale": {"domain": [-194, 2407], "nice": false, "zero": false},
                            "axis": {"zindex": 1, "orient": "top", "values": [0, 500, 1000, 1500, 2000], "labels": false, "title": null, "tickSize": {"condition": {"test": "datum.value % 1000 !== 0", "value": -7}, "value": -12}}},
                      "y": {"field": "v", "type": "quantitative", "scale": {"domain": [0, 6], "nice": false, "zero": false},
                            "axis": {"zindex": 1, "orient": "right", "values": [0, 1, 2, 3, 4, 5], "labels": false, "title": null, "tickSize": -12}},
                      "text": {"field": "label"}}}
      ]
    },
    {
      "width": 282, "height": 265,
      "resolve": {"axis": {"x": "independent", "y": "independent"}},
      "layer": [
        {"data": {"name": "ann_f"}, "transform": [{"filter": "datum.kind === 'shade'"}],
         "mark": {"type": "rect", "color": "#e3eefb"},
         "encoding": {"x": {"field": "t", "type": "quantitative", "scale": {"domain": [-193, 4000], "nice": false, "zero": false}, "axis": null}, "x2": {"field": "t2"}}},
        {"data": {"name": "dc"},
         "mark": {"type": "line", "strokeWidth": 7, "strokeJoin": "round"},
         "encoding": {
           "x": {"field": "t", "type": "quantitative", "scale": {"domain": [-193, 4000], "nice": false, "zero": false},
                 "axis": {"zindex": 1, "orient": "bottom", "values": [0, 1000, 2000, 3000, 4000], "labelExpr": "datum.value % 2000 === 0 ? '' + datum.value : ''", "labelPadding": 20, "labelOffset": {"condition": {"test": "datum.value === 0", "value": -8}, "value": -14}, "title": "t (s)", "titlePadding": 4, "tickSize": {"condition": {"test": "datum.value % 2000 !== 0", "value": -7}, "value": -12}}},
           "y": {"field": "v", "type": "quantitative", "scale": {"domain": [0, 6], "nice": false, "zero": false},
                 "axis": {"zindex": 1, "orient": "left", "values": [0, 1, 2, 3, 4, 5], "labels": false, "title": null, "tickSize": -12}},
           "color": {"field": "s", "type": "nominal", "scale": {"domain": ["n11", "n9", "n7", "n5", "n3"], "range": ["#b44fdc", "#fb8a24", "#8fba2e", "#ee1c24", "#2d6ff2"]}, "legend": null}}},
        {"data": {"name": "ann_f"}, "transform": [{"filter": "datum.kind === 'arrow'"}],
         "mark": {"type": "rule", "color": "#9a9a9a", "strokeWidth": 4},
         "encoding": {"x": {"field": "t", "type": "quantitative", "scale": {"domain": [-193, 4000], "nice": false, "zero": false}, "axis": null},
                      "y": {"field": "v", "type": "quantitative", "scale": {"domain": [0, 6], "nice": false, "zero": false}, "axis": null}, "y2": {"field": "v2"}}},
        {"data": {"name": "ann_f"}, "transform": [{"filter": "datum.kind === 'arrow'"}],
         "mark": {"type": "point", "filled": true, "color": "#9a9a9a", "size": 196, "opacity": 1},
         "encoding": {"x": {"field": "t", "type": "quantitative", "scale": {"domain": [-193, 4000], "nice": false, "zero": false}, "axis": null},
                      "y": {"field": "v2", "type": "quantitative", "scale": {"domain": [0, 6], "nice": false, "zero": false}, "axis": null},
                      "shape": {"field": "dir", "type": "nominal", "scale": {"domain": ["down", "up"], "range": ["M-1,-1.1L1,-1.1L0,1.1Z", "M-1,1.1L1,1.1L0,-1.1Z"]}, "legend": null}}},
        {"data": {"name": "ann_f"}, "transform": [{"filter": "datum.kind === 'letter'"}],
         "mark": {"type": "text", "align": "center", "baseline": "alphabetic", "fontSize": 30},
         "encoding": {"x": {"field": "t", "type": "quantitative", "scale": {"domain": [-193, 4000], "nice": false, "zero": false},
                            "axis": {"zindex": 1, "orient": "top", "values": [0, 1000, 2000, 3000, 4000], "labels": false, "title": null, "tickSize": {"condition": {"test": "datum.value % 2000 !== 0", "value": -7}, "value": -12}}},
                      "y": {"field": "v", "type": "quantitative", "scale": {"domain": [0, 6], "nice": false, "zero": false},
                            "axis": {"zindex": 1, "orient": "right", "values": [0, 1, 2, 3, 4, 5], "labels": false, "title": null, "tickSize": -12}},
                      "text": {"field": "label"}}}
      ]
    }
  ],
  "config": {
    "font": "Liberation Sans",
    "view": {"stroke": null},
    "axis": {"domain": true, "domainColor": "#000", "domainWidth": 1.5, "grid": false, "tickColor": "#000", "tickWidth": 1.3,
             "labelFont": "Liberation Sans", "labelFontSize": 24, "labelColor": "#000",
             "titleFont": "Liberation Sans", "titleFontSize": 26, "titleFontWeight": "normal", "titleColor": "#000",
             "labelFlush": false, "labelOverlap": false},
    "text": {"font": "Liberation Sans", "color": "#000"}
  }
}
